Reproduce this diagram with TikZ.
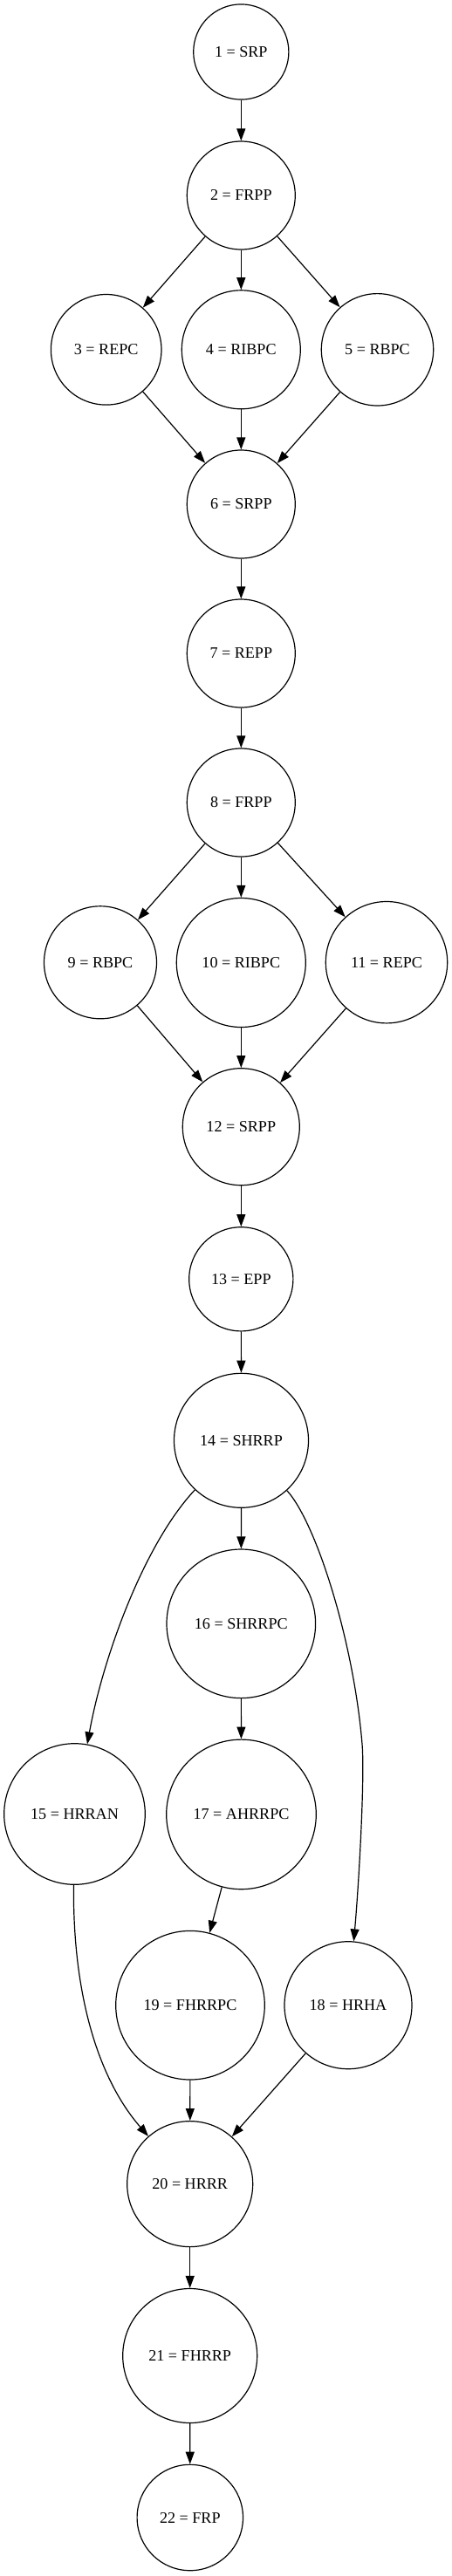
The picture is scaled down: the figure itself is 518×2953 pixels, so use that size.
\documentclass[tikz,border=0pt]{standalone}
\usepackage{fontspec}
\setmainfont{Liberation Serif}
\usetikzlibrary{arrows.meta}
\begin{document}
\begin{tikzpicture}[x=1pt,y=-1pt,
  st/.style={circle,draw,line width=1.2pt,inner sep=0pt,font=\fontsize{18.1}{20}\selectfont},
  ed/.style={line width=1.2pt,-{Triangle[length=14pt,width=10pt]}}]
\useasboundingbox (0,0) rectangle (518,2953);
\node[st,minimum size=109.2pt] (n1) at (276.3,59.5) {1 = SRP};
\node[st,minimum size=124pt] (n2) at (276.3,224) {2 = FRPP};
\node[st,minimum size=126.6pt] (n3) at (121.7,400.8) {3 = REPC};
\node[st,minimum size=136pt] (n4) at (276.3,400.8) {4 = RIBPC};
\node[st,minimum size=128.4pt] (n5) at (432.5,400.8) {5 = RBPC};
\node[st,minimum size=124pt] (n6) at (276.3,578) {6 = SRPP};
\node[st,minimum size=124pt] (n7) at (276.3,749) {7 = REPP};
\node[st,minimum size=124pt] (n8) at (276.3,920) {8 = FRPP};
\node[st,minimum size=129pt] (n9) at (115,1103.3) {9 = RBPC};
\node[st,minimum size=148pt] (n10) at (276.3,1103.5) {10 = RIBPC};
\node[st,minimum size=139.4pt] (n11) at (443,1103.2) {11 = REPC};
\node[st,minimum size=134pt] (n12) at (276.3,1291.7) {12 = SRPP};
\node[st,minimum size=119.2pt] (n13) at (276.3,1466.3) {13 = EPP};
\node[st,minimum size=154pt] (n14) at (276.5,1651.3) {14 = SHRRP};
\node[st,minimum size=170.6pt] (n16) at (276.3,1861.3) {16 = SHRRPC};
\node[st,minimum size=161.6pt] (n15) at (85.5,2079.5) {15 = HRRAN};
\node[st,minimum size=171.6pt] (n17) at (276.5,2079.9) {17 = AHRRPC};
\node[st,minimum size=170.6pt] (n19) at (218,2298.7) {19 = FHRRPC};
\node[st,minimum size=146pt] (n18) at (399,2298.7) {18 = HRHA};
\node[st,minimum size=144pt] (n20) at (217.7,2503.6) {20 = HRRR};
\node[st,minimum size=154pt] (n21) at (217.7,2700.5) {21 = FHRRP};
\node[st,minimum size=121.4pt] (n22) at (217.8,2886) {22 = FRP};
\draw[ed] (n1) -- (n2);
\draw[ed] (n2) -- (n3);
\draw[ed] (n2) -- (n4);
\draw[ed] (n2) -- (n5);
\draw[ed] (n3) -- (n6);
\draw[ed] (n4) -- (n6);
\draw[ed] (n5) -- (n6);
\draw[ed] (n6) -- (n7);
\draw[ed] (n7) -- (n8);
\draw[ed] (n8) -- (n9);
\draw[ed] (n8) -- (n10);
\draw[ed] (n8) -- (n11);
\draw[ed] (n9) -- (n12);
\draw[ed] (n10) -- (n12);
\draw[ed] (n11) -- (n12);
\draw[ed] (n12) -- (n13);
\draw[ed] (n13) -- (n14);
\draw[ed] (n14) .. controls (165,1770) and (118,1900) .. (n15);
\draw[ed] (n14) -- (n16);
\draw[ed] (n14) .. controls (362,1745) and (405,1880) .. (415,1999) .. controls (418,2035) and (412,2150) .. (n18);
\draw[ed] (n16) -- (n17);
\draw[ed] (n17) -- (n19);
\draw[ed] (n15) .. controls (83,2280) and (110,2380) .. (n20);
\draw[ed] (n19) -- (n20);
\draw[ed] (n18) -- (n20);
\draw[ed] (n20) -- (n21);
\draw[ed] (n21) -- (n22);
\end{tikzpicture}
\end{document}
